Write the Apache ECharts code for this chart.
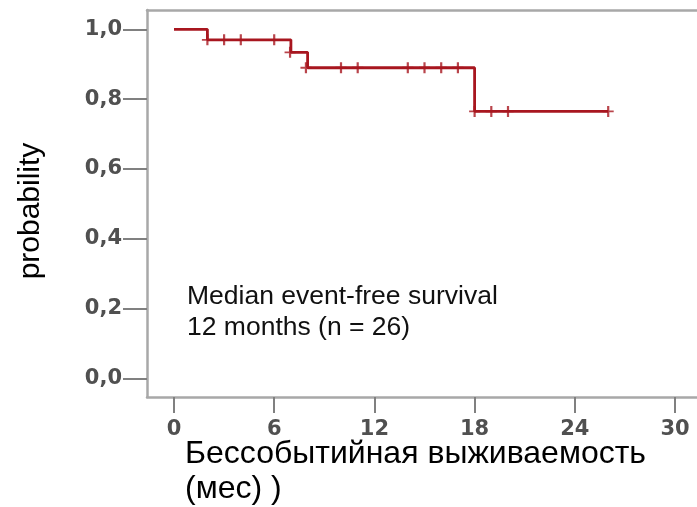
<!DOCTYPE html>
<html>
<head>
<meta charset="utf-8">
<script src="https://cdn.jsdelivr.net/npm/echarts@6/dist/echarts.min.js"></script>
<style>
  html, body { margin: 0; padding: 0; background: #ffffff; }
  #chart { width: 697px; height: 507px; }
</style>
</head>
<body>
<div id="chart"></div>
<script>
// Kaplan–Meier curve: event times (months) and survival level after each step
const stepTimes = [0, 2, 7, 8, 18, 26];
const stepSurvival = [1.0, 0.97, 0.934, 0.89, 0.765, 0.765];

// Censored observations (months) and the curve level where each one sits
const censorTimes = [2, 3, 4, 6, 6.95, 7.9, 10, 11, 14, 15, 16, 17, 18, 19, 20, 26];
const censorLevels = [0.97, 0.97, 0.97, 0.97, 0.934, 0.89, 0.89, 0.89, 0.89, 0.89, 0.89, 0.89, 0.765, 0.765, 0.765, 0.765];

// Axis ticks and labels
const xTicks = [0, 6, 12, 18, 24, 30];
const yTicks = [0, 0.2, 0.4, 0.6, 0.8, 1.0];
const yTickLabels = ['0,0', '0,2', '0,4', '0,6', '0,8', '1,0'];

const xTitle = 'Бессобытийная выживаемость\n(мес) )';
const yTitle = 'probability';
const note = 'Median event-free survival\n12 months (n = 26)';

const curve = stepTimes.map((t, i) => [t, stepSurvival[i]]);
const censored = censorTimes.map((t, i) => [t, censorLevels[i]]);

const red = '#a8161f';
const axisGrey = '#a8a8a8';
const tickGrey = '#808080';
const labelColor = '#505050';

const xMin = -1.617;
const xMax = 31.317;

const chart = echarts.init(document.getElementById('chart'), null, { renderer: 'canvas' });

chart.setOption({
  animation: false,
  backgroundColor: '#ffffff',
  // the frame is open on the right: left/bottom axis lines plus a bare top axis line
  grid: {
    left: 147, top: 10, right: 0, bottom: 110,
    outerBoundsMode: 'none'
  },
  xAxis: [
    {
      type: 'value',
      min: xMin,
      max: xMax,
      axisLine: { show: true, onZero: false, lineStyle: { color: axisGrey, width: 2.5 } },
      axisTick: { show: true, customValues: xTicks, length: 16, lineStyle: { color: tickGrey, width: 2 } },
      axisLabel: {
        customValues: xTicks, margin: 22,
        fontFamily: 'DejaVu Sans', fontWeight: 'bold', fontSize: 21, color: labelColor
      },
      splitLine: { show: false }
    },
    {
      type: 'value',
      position: 'top',
      min: xMin,
      max: xMax,
      axisLine: { show: true, onZero: false, lineStyle: { color: axisGrey, width: 2.5 } },
      axisTick: { show: false },
      axisLabel: { show: false },
      splitLine: { show: false }
    }
  ],
  yAxis: {
    type: 'value',
    min: -0.0527,
    max: 1.0553,
    axisLine: { show: true, onZero: false, lineStyle: { color: axisGrey, width: 2.5 } },
    axisTick: { show: true, customValues: yTicks, length: 24, lineStyle: { color: tickGrey, width: 2 } },
    axisLabel: {
      customValues: yTicks, margin: 25,
      fontFamily: 'DejaVu Sans', fontWeight: 'bold', fontSize: 21, color: labelColor,
      formatter: (v) => {
        const i = yTicks.findIndex((t) => Math.abs(t - v) < 1e-6);
        return i >= 0 ? yTickLabels[i] : '';
      }
    },
    splitLine: { show: false }
  },
  graphic: [
    {
      type: 'text', x: 31, y: 211, rotation: Math.PI / 2,
      style: {
        text: yTitle, fontFamily: 'Liberation Sans', fontSize: 30, fill: '#000',
        align: 'center', verticalAlign: 'middle'
      }
    },
    {
      type: 'text', left: 185, top: 437,
      style: {
        text: xTitle, fontFamily: 'Liberation Sans', fontSize: 32, lineHeight: 35, fill: '#000'
      }
    },
    {
      type: 'text', left: 187, top: 281,
      style: {
        text: note, fontFamily: 'Liberation Sans', fontSize: 26.5, lineHeight: 31, fill: '#111'
      }
    }
  ],
  series: [
    {
      type: 'line',
      data: curve,
      step: 'end',
      symbol: 'none',
      lineStyle: { color: red, width: 2.8 },
      z: 3
    },
    {
      type: 'scatter',
      data: censored,
      symbol: 'path://M4.4,0h2.2v11h-2.2z M0,4.6h11v1.8h-11z',
      symbolSize: [11, 11],
      itemStyle: { color: red },
      z: 4
    }
  ]
});
</script>
</body>
</html>
